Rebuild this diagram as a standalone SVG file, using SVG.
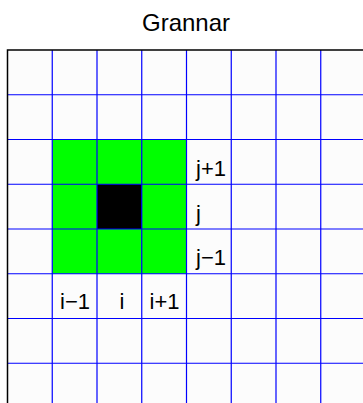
<svg xmlns="http://www.w3.org/2000/svg" width="363" height="403" viewBox="0 0 363 403">
<style>
.t{font-family:"Liberation Sans",Arial,sans-serif;fill:#000}
.lbl{font-size:22px}
.g{stroke:#0000ff;stroke-width:1.2;fill:none}
</style>
<rect width="363" height="403" fill="#fff"/>
<text class="t" x="186" y="31" font-size="24" text-anchor="middle">Grannar</text>
<g id="grid">
<rect x="7.5" y="50" width="360" height="360" fill="#fcfcfc"/>
<g id="neighbours">
<rect x="52.25" y="139.5" width="134.25" height="134.25" fill="#00ff00"/>
</g>
<g id="center">
<rect x="97" y="184.25" width="44.75" height="44.75" fill="#000"/>
</g>
<g id="lines" class="g">
<path d="M52.25 50V403M97 50V403M141.75 50V403M186.5 50V403M231.25 50V403M276 50V403M320.75 50V403"/>
<path d="M7.5 94.75H363M7.5 139.5H363M7.5 184.25H363M7.5 229H363M7.5 273.75H363M7.5 318.5H363M7.5 363.25H363"/>
</g>
<path d="M7.5 403V50H363" stroke="#000" stroke-width="1.5" fill="none"/>
</g>
<g id="labels" class="t lbl">
<text x="196" y="176">j+1</text>
<text x="196" y="220.5">j</text>
<text x="196" y="265">j−1</text>
<text x="60" y="309">i−1</text>
<text x="122" y="309" text-anchor="middle">i</text>
<text x="149.5" y="309">i+1</text>
</g>
</svg>
